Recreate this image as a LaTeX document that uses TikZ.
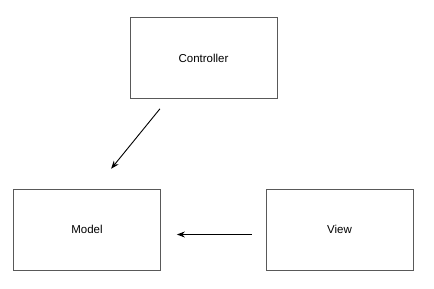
\documentclass[tikz,border=0pt]{standalone}
\usepackage{fontspec}
\setmainfont{Liberation Sans}
\usetikzlibrary{arrows.meta,positioning}

\begin{document}
\begin{tikzpicture}[
    x=1pt, y=-1pt,
    box/.style={rectangle, draw=black!65, line width=0.8pt, text centered,
                minimum width=147pt, minimum height=81pt,
                font=\fontsize{11.5}{13}\selectfont, fill=white},
    arr/.style={-{Stealth[length=8pt,width=6pt]}, line width=0.9pt}
]
\useasboundingbox (0,0) rectangle (434,289);

%% MVC boxes
\node[box] (controller) at (203.5,58)  {Controller};
\node[box] (model)      at (87,229.5)  {Model};
\node[box] (view)       at (339.5,229.5) {View};

%% Arrows
\draw[arr, shorten <=12.8pt, shorten >=25.6pt]
    ([xshift=-35.5pt]controller.south) -- ([xshift=8pt]model.north);
\draw[arr, shorten <=14pt, shorten >=16pt]
    ([yshift=-5pt]view.west) -- ([yshift=-5pt]model.east);

\end{tikzpicture}
\end{document}
